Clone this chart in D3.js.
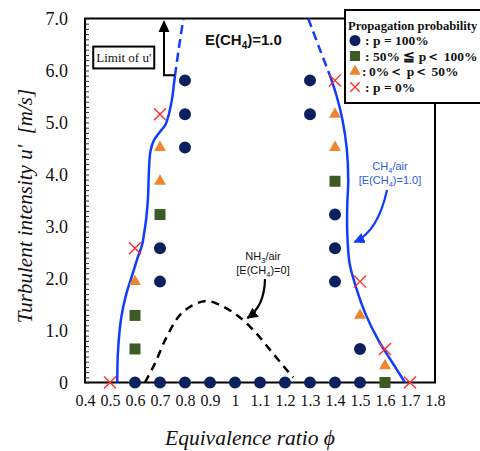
<!DOCTYPE html>
<html>
<head>
<meta charset="utf-8">
<script src="https://cdn.jsdelivr.net/npm/d3@7"></script>
<style>
  html, body { margin: 0; padding: 0; background: #fff; }
  svg { display: block; }
</style>
</head>
<body>
<svg id="chart" width="480" height="451"></svg>
<script>
// ---- axis ticks ----
const xTicks = [0.4, 0.5, 0.6, 0.7, 0.8, 0.9, 1.0, 1.1, 1.2, 1.3, 1.4, 1.5, 1.6, 1.7, 1.8];
const xTickLabels = ["0.4", "0.5", "0.6", "0.7", "0.8", "0.9", "1", "1.1", "1.2", "1.3", "1.4", "1.5", "1.6", "1.7", "1.8"];
const yTicks = [0, 1, 2, 3, 4, 5, 6, 7];
const yTickLabels = ["0", "1.0", "2.0", "3.0", "4.0", "5.0", "6.0", "7.0"];

// ---- measured points [phi, u'] by propagation probability ----
const pFull = [
  [0.6, 0], [0.7, 0], [0.8, 0], [0.9, 0], [1.0, 0], [1.1, 0], [1.2, 0], [1.3, 0], [1.4, 0], [1.5, 0],
  [0.7, 1.94], [0.7, 2.58], [0.8, 4.52], [0.8, 5.16], [0.8, 5.81],
  [1.3, 5.16], [1.3, 5.81], [1.4, 1.94], [1.4, 2.58], [1.4, 3.23], [1.5, 0.645]
];
const pHigh = [[0.6, 0.645], [0.6, 1.29], [0.7, 3.23], [1.4, 3.87], [1.6, 0]];
const pLow = [[0.6, 1.94], [0.7, 3.87], [0.7, 4.52], [1.4, 4.52], [1.4, 5.16], [1.5, 1.29], [1.6, 0.32]];
const pZero = [[0.5, 0], [0.6, 2.58], [0.7, 5.16], [1.4, 5.81], [1.5, 1.94], [1.6, 0.645], [1.7, 0]];

// ---- flammability boundaries [phi, u'] ----
const ch4LeanSolid = [
  [0.529, 0], [0.532, 0.6], [0.545, 1.25], [0.565, 1.7], [0.588, 2.05], [0.612, 2.42],
  [0.628, 2.64], [0.636, 2.85], [0.646, 3.2], [0.652, 3.55], [0.656, 4.1], [0.662, 4.45],
  [0.676, 4.66], [0.70, 4.82], [0.722, 4.96], [0.735, 5.15], [0.748, 5.45], [0.756, 5.75], [0.760, 5.9]
];
const ch4LeanDashed = [[0.760, 5.9], [0.776, 6.45], [0.793, 6.98]];
const ch4RichDashed = [[1.293, 7.0], [1.336, 6.45], [1.380, 5.9]];
const ch4RichSolid = [
  [1.380, 5.9], [1.407, 5.5], [1.430, 5.05], [1.447, 4.5], [1.453, 3.9], [1.449, 3.4],
  [1.449, 2.9], [1.458, 2.3], [1.483, 1.85], [1.522, 1.32], [1.575, 0.8], [1.630, 0.38], [1.680, 0]
];
const nh3Boundary = [
  [0.640, 0], [0.680, 0.37], [0.727, 0.88], [0.780, 1.30], [0.833, 1.49], [0.887, 1.57],
  [0.940, 1.49], [1.007, 1.30], [1.073, 1.01], [1.140, 0.63], [1.207, 0.24], [1.233, 0.1]
];

// ---- legend entries ----
const legendLabels = ["p = 100%", "50% \u2266 p\uFF1C 100%", "0%\uFF1C p\uFF1C 50%", "p = 0%"];

const svg = d3.select("#chart");
const W = 480, H = 451;
svg.append("rect").attr("width", W).attr("height", H).attr("fill", "#fff");

const x = d3.scaleLinear().domain([0.4, 1.8]).range([85, 435]);
const y = d3.scaleLinear().domain([0, 7]).range([382.5, 18.5]);

const SERIF = "'Liberation Serif', 'Times New Roman', 'DejaVu Serif', serif";
const SANS = "'Liberation Sans', Arial, 'DejaVu Sans', sans-serif";

const COL = {
  full: "#0c1f5e",
  high: "#3b5a24",
  low: "#ee8533",
  zero: "#ff2e2e",
  ch4: "#0f3cff",
  ch4Text: "#2a5ae6"
};

// ---- plot frame ----
svg.append("rect")
  .attr("x", x(0.4)).attr("y", y(7))
  .attr("width", x(1.8) - x(0.4)).attr("height", y(0) - y(7))
  .attr("fill", "none").attr("stroke", "#000").attr("stroke-width", 2);

// inner minor ticks on the u' axis
const gMinor = svg.append("g").attr("transform", `translate(${x(0.4)},0)`)
  .call(d3.axisRight(y).tickValues(d3.range(0, 71).map(i => i / 10)).tickSize(4).tickFormat(""));
gMinor.select(".domain").remove();
gMinor.selectAll(".tick line").attr("stroke", "#333").attr("stroke-width", 1);

// u' tick labels
const gY = svg.append("g").attr("transform", `translate(${x(0.4)},0)`)
  .call(d3.axisLeft(y).tickValues(yTicks).tickSize(0).tickPadding(17)
    .tickFormat((d, i) => yTickLabels[i]));
gY.select(".domain").remove();
gY.selectAll("text").attr("font-family", SERIF).attr("font-size", 18).attr("fill", "#111");

// phi tick labels
const gX = svg.append("g").attr("transform", `translate(0,${y(0)})`)
  .call(d3.axisBottom(x).tickValues(xTicks).tickSize(0).tickPadding(12)
    .tickFormat((d, i) => xTickLabels[i]));
gX.select(".domain").remove();
gX.selectAll("text").attr("font-family", SERIF).attr("font-size", 16).attr("fill", "#111");

// axis titles
svg.append("text")
  .attr("transform", "translate(25,206) rotate(-90)")
  .attr("text-anchor", "middle").attr("dominant-baseline", "central")
  .attr("font-family", SERIF).attr("font-style", "italic").attr("font-size", 21).attr("fill", "#111")
  .text("Turbulent intensity u'\u00a0\u00a0[m/s]");

svg.append("text")
  .attr("x", 250).attr("y", 445)
  .attr("text-anchor", "middle")
  .attr("font-family", SERIF).attr("font-style", "italic").attr("font-size", 21.5).attr("fill", "#111")
  .text("Equivalence ratio \u03d5");

// ---- boundary curves ----
const line = d3.line().x(d => x(d[0])).y(d => y(d[1])).curve(d3.curveCatmullRom.alpha(0.5));

svg.append("path").datum(nh3Boundary).attr("d", line)
  .attr("fill", "none").attr("stroke", "#000").attr("stroke-width", 2.5).attr("stroke-dasharray", "8,6");

[ch4LeanSolid, ch4RichSolid].forEach(seg => {
  svg.append("path").datum(seg).attr("d", line)
    .attr("fill", "none").attr("stroke", COL.ch4).attr("stroke-width", 2.5);
});
[ch4LeanDashed, ch4RichDashed].forEach(seg => {
  svg.append("path").datum(seg).attr("d", line)
    .attr("fill", "none").attr("stroke", COL.ch4).attr("stroke-width", 2.5).attr("stroke-dasharray", "9,5");
});

// ---- markers ----
const sym = {
  full: d3.symbol(d3.symbolCircle, 113),
  high: d3.symbol(d3.symbolSquare, 121),
  low: d3.symbol(d3.symbolTriangle, 62),
  zero: d3.symbol(d3.symbolTimes, 96)
};

function drawMarkers(data, key) {
  const g = svg.append("g");
  g.selectAll("path").data(data).join("path")
    .attr("transform", d => `translate(${x(d[0])},${y(d[1])})`)
    .attr("d", sym[key]())
    .attr("fill", key === "zero" ? "none" : COL[key])
    .attr("stroke", key === "zero" ? COL.zero : "none")
    .attr("stroke-width", key === "zero" ? 1.4 : 0);
}
drawMarkers(pHigh, "high");
drawMarkers(pLow, "low");
drawMarkers(pFull, "full");
drawMarkers(pZero, "zero");

// ---- annotations ----
const defs = svg.append("defs");
function arrowHead(id, color) {
  defs.append("marker").attr("id", id)
    .attr("viewBox", "0 0 10 10").attr("refX", 9).attr("refY", 5)
    .attr("markerWidth", 5).attr("markerHeight", 5).attr("markerUnits", "strokeWidth")
    .attr("orient", "auto")
    .append("path").attr("d", "M0,0 L10,5 L0,10 z").attr("fill", color);
}
arrowHead("headBlack", "#000");
arrowHead("headBlue", COL.ch4);

// upper limit of u'
const limitPhi = 0.716, limitBase = 5.91, limitTop = 6.97, limitFoot = 0.76;
svg.append("path")
  .attr("d", `M${x(limitFoot)},${y(limitBase)} L${x(limitPhi)},${y(limitBase)} L${x(limitPhi)},${y(limitTop) + 10}`)
  .attr("fill", "none").attr("stroke", "#000").attr("stroke-width", 2);
svg.append("path")
  .attr("d", `M${x(limitPhi)},${y(limitTop)} l-5.5,12 l11,0 z`)
  .attr("fill", "#000");

svg.append("rect")
  .attr("x", x(0.433)).attr("y", y(6.46))
  .attr("width", x(0.677) - x(0.433)).attr("height", y(6.04) - y(6.46))
  .attr("fill", "#fff").attr("stroke", "#000").attr("stroke-width", 2);
svg.append("text")
  .attr("x", (x(0.433) + x(0.677)) / 2).attr("y", y(6.25) + 4.5)
  .attr("text-anchor", "middle")
  .attr("font-family", SERIF).attr("font-size", 13).attr("fill", "#111")
  .text("Limit of u'");

// E(CH4)=1.0 title
const tE = svg.append("text").attr("x", 205).attr("y", 45)
  .attr("font-family", SANS).attr("font-weight", "bold").attr("font-size", 15).attr("fill", "#111");
tE.append("tspan").text("E(CH");
tE.append("tspan").attr("font-size", 10).attr("dy", 4).text("4");
tE.append("tspan").attr("dy", -4).text(")=1.0");

// CH4/air label and arrow
const tC1 = svg.append("text").attr("x", 390).attr("y", 170).attr("text-anchor", "middle")
  .attr("font-family", SANS).attr("font-size", 11).attr("fill", COL.ch4Text);
tC1.append("tspan").text("CH");
tC1.append("tspan").attr("font-size", 7.5).attr("dy", 3).text("4");
tC1.append("tspan").attr("dy", -3).text("/air");
const tC2 = svg.append("text").attr("x", 390).attr("y", 183.5).attr("text-anchor", "middle")
  .attr("font-family", SANS).attr("font-size", 11).attr("fill", COL.ch4Text);
tC2.append("tspan").text("[E(CH");
tC2.append("tspan").attr("font-size", 7.5).attr("dy", 3).text("4");
tC2.append("tspan").attr("dy", -3).text(")=1.0]");

svg.append("path")
  .attr("d", `M${x(1.608)},${y(3.70)} Q${x(1.572)},${y(2.90)} ${x(1.478)},${y(2.70)}`)
  .attr("fill", "none").attr("stroke", COL.ch4).attr("stroke-width", 2.2)
  .attr("marker-end", "url(#headBlue)");

// NH3/air label and arrow
const tN1 = svg.append("text").attr("x", 263).attr("y", 260).attr("text-anchor", "middle")
  .attr("font-family", SANS).attr("font-size", 11).attr("fill", "#111");
tN1.append("tspan").text("NH");
tN1.append("tspan").attr("font-size", 7.5).attr("dy", 3).text("3");
tN1.append("tspan").attr("dy", -3).text("/air");
const tN2 = svg.append("text").attr("x", 263).attr("y", 274).attr("text-anchor", "middle")
  .attr("font-family", SANS).attr("font-size", 11).attr("fill", "#111");
tN2.append("tspan").text("[E(CH");
tN2.append("tspan").attr("font-size", 7.5).attr("dy", 3).text("4");
tN2.append("tspan").attr("dy", -3).text(")=0]");

svg.append("path")
  .attr("d", `M${x(1.12)},${y(1.99)} Q${x(1.118)},${y(1.47)} ${x(1.05)},${y(1.24)}`)
  .attr("fill", "none").attr("stroke", "#000").attr("stroke-width", 2.2)
  .attr("marker-end", "url(#headBlack)");

// ---- legend ----
const lg = svg.append("g");
lg.append("rect").attr("x", 345).attr("y", 10).attr("width", 160).attr("height", 93)
  .attr("fill", "#fff").attr("stroke", "#000").attr("stroke-width", 2);
lg.append("text").attr("x", 348).attr("y", 29.5)
  .attr("font-family", SERIF).attr("font-weight", "bold").attr("font-size", 12.6).attr("fill", "#111")
  .text("Propagation probability");

const legendKeys = ["full", "high", "low", "zero"];
const legendSym = {
  full: d3.symbol(d3.symbolCircle, 95),
  high: d3.symbol(d3.symbolSquare, 100),
  low: d3.symbol(d3.symbolTriangle, 58),
  zero: d3.symbol(d3.symbolTimes, 60)
};
legendKeys.forEach((k, i) => {
  const cy = 40.5 + i * 15.5;
  lg.append("path")
    .attr("transform", `translate(355,${cy})`)
    .attr("d", legendSym[k]())
    .attr("fill", k === "zero" ? "none" : COL[k])
    .attr("stroke", k === "zero" ? COL.zero : "none")
    .attr("stroke-width", 1.4);
  lg.append("text").attr("x", k === "low" ? 362 : 365).attr("y", cy + 4.5)
    .attr("font-family", SERIF).attr("font-weight", "bold").attr("font-size", 13.5).attr("fill", "#111")
    .text(":");
  lg.append("text").attr("x", k === "low" ? 369 : 373).attr("y", cy + 4.5)
    .attr("font-family", SERIF).attr("font-weight", "bold").attr("font-size", 13.5).attr("fill", "#111")
    .text(legendLabels[i]);
});
</script>
</body>
</html>
